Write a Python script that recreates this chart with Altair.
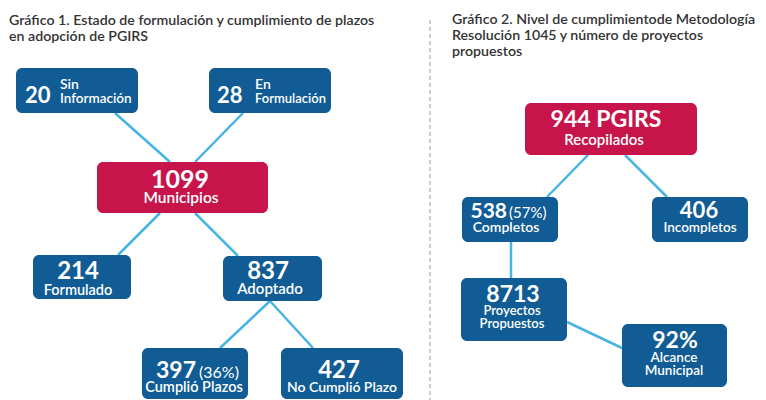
import altair as alt
import pandas as pd

# ---- values ----
numbers = [20, 28, 1099, 214, 837, 397, 427, 944, 538, 406, 8713, 92]
number_text = ["20", "28", "1099", "214", "837", "397", "427", "944 PGIRS", "538", "406", "8713", "92%"]
box_kind = ["leaf", "leaf", "root", "leaf", "leaf", "leaf", "leaf", "root", "leaf", "leaf", "leaf", "leaf"]
shares = ["(36%)", "(57%)"]
labels = ["Sin", "Información", "En", "Formulación", "Municipios", "Formulado", "Adoptado",
          "Cumplió Plazos", "No Cumplió Plazo", "Recopilados", "Completos", "Incompletos",
          "Proyectos", "Propuestos", "Alcance", "Municipal"]
titles = ["Gráfico 1. Estado de formulación y cumplimiento de plazos", "en adopción de PGIRS",
          "Gráfico 2. Nivel de cumplimientode Metodología", "Resolución 1045 y número de proyectos",
          "propuestos"]

# ---- layout (pixel positions of the diagram) ----
box_x1 = [16, 209, 97, 33, 223, 142, 281, 525, 462, 652, 461, 622]
box_x2 = [138, 331, 268, 131, 322, 248, 403, 697, 558, 748, 567, 727]
box_y1 = [68, 68, 162, 255, 256, 348, 348, 103, 197, 197, 278, 324]
box_y2 = [113, 113, 213, 299, 301, 399, 399, 155, 242, 242, 341, 387]
num_x = [25, 217, 180, 78, 268, 196, 339, 606, 507, 699, 513, 675]
num_y = [103, 103, 188, 279, 279, 378, 378, 127, 218, 218, 302, 348]
num_align = ["left", "left", "center", "center", "center", "right", "center", "center", "right", "center", "center", "center"]
num_size = [22, 22, 25, 24, 24, 23, 24, 23, 21, 22, 23, 23]
share_x = [199, 509]
share_y = [378, 218]
share_size = [16, 15]
lab_x = [60, 60, 255, 255, 181, 78, 270, 194, 342, 604, 506, 700, 512, 512, 674, 674]
lab_y = [89, 103, 89, 103, 203, 295, 294, 392, 392, 145, 232, 232, 315, 328, 362, 375]
lab_align = ["left", "left", "left", "left"] + ["center"] * 12
lab_size = [14, 13.5, 14, 13, 15.5, 14.5, 15, 14.5, 14, 15, 14, 13.5, 13, 13, 13.5, 13.5]
link_x1 = [115, 243, 160, 195, 270, 270, 588, 625, 511, 567]
link_y1 = [113, 113, 213, 213, 301, 301, 155, 155, 242, 322]
link_x2 = [170, 195, 118, 238, 220, 313, 547, 667, 511, 622]
link_y2 = [162, 162, 255, 256, 348, 348, 197, 197, 278, 348]
title_x = [9, 9, 452, 452, 452]
title_y = [25, 41, 24, 40, 56]

BLUE = "#115c95"
RED = "#c7154b"
LINK = "#45b4e5"
FONT = "Lato"

boxes = pd.DataFrame({"x": box_x1, "x2": box_x2, "y": box_y1, "y2": box_y2,
                      "kind": box_kind, "value": numbers})
nums = pd.DataFrame({"x": num_x, "y": num_y, "text": number_text, "align": num_align, "size": num_size})
shr = pd.DataFrame({"x": share_x, "y": share_y, "text": shares, "size": share_size})
labs = pd.DataFrame({"x": lab_x, "y": lab_y, "text": labels, "align": lab_align, "size": lab_size})
links = pd.DataFrame({"x": link_x1, "y": link_y1, "x2": link_x2, "y2": link_y2})
tit = pd.DataFrame({"x": title_x, "y": title_y, "text": titles})
divider = pd.DataFrame({"x": [430], "y": [20], "y2": [400]})

W, H = 750, 392
xs = alt.Scale(domain=[8, 8 + W], nice=False, zero=False)
ys = alt.Scale(domain=[8, 8 + H], nice=False, zero=False, reverse=True)
X = lambda f="x": alt.X(f"{f}:Q", scale=xs, axis=None)
Y = lambda f="y": alt.Y(f"{f}:Q", scale=ys, axis=None)

div_layer = alt.Chart(divider).mark_rule(color="#9a9a9a", strokeWidth=1, strokeDash=[4, 3]).encode(
    x=X(), y=Y(), y2="y2:Q")

link_layer = alt.Chart(links).mark_rule(color=LINK, strokeWidth=2.5).encode(
    x=X(), y=Y(), x2="x2:Q", y2="y2:Q")

box_layer = alt.Chart(boxes).mark_rect(cornerRadius=6).encode(
    x=X(), x2="x2:Q", y=Y(), y2="y2:Q",
    color=alt.Color("kind:N", scale=alt.Scale(domain=["leaf", "root"], range=[BLUE, RED]), legend=None))

def text_layer(df, align, weight):
    ch = alt.Chart(df).transform_filter(alt.datum.align == align)
    m = ch.mark_text(align=align, baseline="alphabetic", color="white", font=FONT, fontWeight=weight)
    return m.encode(x=X(), y=Y(), text="text:N", size=alt.Size("size:Q", scale=None))

layers = [div_layer, link_layer, box_layer]
for a in ["left", "center", "right"]:
    layers.append(text_layer(nums, a, "bold"))
for a in ["left", "center"]:
    layers.append(text_layer(labs, a, 600))
layers.append(alt.Chart(shr).mark_text(align="left", baseline="alphabetic", color="white", font=FONT,
                                       fontWeight="normal").encode(
    x=X(), y=Y(), text="text:N", size=alt.Size("size:Q", scale=None)))
layers.append(alt.Chart(tit).mark_text(align="left", baseline="alphabetic", color="#333333", font=FONT,
                                       fontSize=14.2, fontWeight=600).encode(x=X(), y=Y(), text="text:N"))

chart = alt.layer(*layers).properties(
    width=W, height=H, padding=0, autosize=alt.AutoSizeParams(type="none")
).configure(background="white").configure_view(stroke=None, strokeWidth=0)

chart.save("out.html", embed_options={"renderer": "svg", "actions": False})
